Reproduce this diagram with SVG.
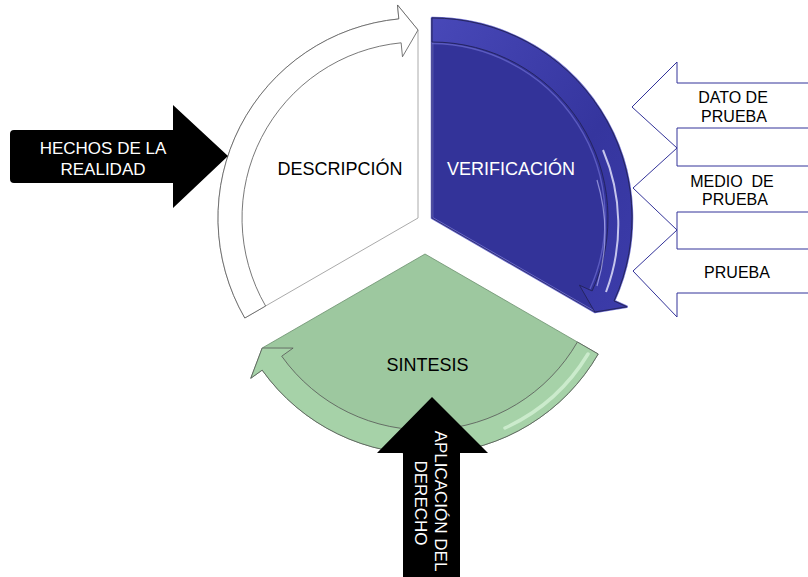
<svg xmlns="http://www.w3.org/2000/svg" width="808" height="577" viewBox="0 0 808 577">
<style>
text{font-family:"Liberation Sans",Arial,sans-serif}
.lbl{font-size:18px;text-anchor:middle}
.blk{font-size:17px;fill:#fff;text-anchor:middle}
.side{font-size:16px;fill:#000;text-anchor:middle}
.sarrow{fill:#fff;stroke:#333399;stroke-width:1}
.black{fill:#000}
</style>
<defs>
<linearGradient id="blueBand" x1="0" y1="0" x2="1" y2="1">
<stop offset="0" stop-color="#4848b8"/>
<stop offset="0.6" stop-color="#35359e"/>
<stop offset="1" stop-color="#3c3caa"/>
</linearGradient>
</defs>
<rect width="808" height="577" fill="#fff"/>
<g id="descripcion">
<path d="M418,218 L244.8,318 A200,200 0 0 1 398.83,18.92 L397.49,4.98 L418,30 Z" fill="#fff" stroke="#aaa" stroke-width="1"/>
<text class="lbl" x="340" y="175">DESCRIPCIÓN</text>
</g>
<g id="verificacion">
<path d="M432,218 L432,18 A200,200 0 0 1 613.99,300.94 L626.73,306.74 L594.81,312 Z" fill="#333399" stroke="#6a6acc" stroke-width="2.5" stroke-linejoin="round"/>
<path d="M432,218 L432,18 A200,200 0 0 1 613.99,300.94 L626.73,306.74 L594.81,312 Z" fill="none" stroke="#22225a" stroke-width="0.8"/>
<text class="lbl" x="511" y="175" fill="#fff">VERIFICACIÓN</text>
</g>
<g id="sintesis">
<path d="M425,254 L598.2,354 A200,200 0 0 1 262.18,370.14 L250.78,378.27 L262.19,348 Z" fill="#9dc89f" stroke="#6b8f6d" stroke-width="0.8"/>
<text class="lbl" x="427.5" y="371" fill="#000">SINTESIS</text>
</g>
<g id="connectors">
<path d="M244.8,318 A200,200 0 0 1 398.83,18.92 L397.49,4.98 L418,30 L402.47,56.75 L401.13,42.81 A176,176 0 0 0 265.6,306 Z" fill="#fff" stroke="#555" stroke-width="0.8"/>
<path d="M432,18 A200,200 0 0 1 613.99,300.94 L626.73,306.74 L594.81,312 L579.41,285.18 L592.15,290.99 A176,176 0 0 0 432,42 Z" fill="url(#blueBand)" stroke="#22225a" stroke-width="0.9"/>
<path d="M432,43.5 A174.5,174.5 0 0 1 590,289" fill="none" stroke="#6c6cd0" stroke-width="1.4" opacity="0.7"/>
<path d="M603,150 A190,190 0 0 1 606,292" fill="none" stroke="#e8e8ff" stroke-width="2" opacity="0.8"/>
<path d="M597,180 A184,184 0 0 1 597,286" fill="none" stroke="#c8c8ff" stroke-width="1.2" opacity="0.6"/>
<path d="M598.2,354 A200,200 0 0 1 262.18,370.14 L250.78,378.27 L262.19,348 L293.11,348.07 L281.71,356.2 A176,176 0 0 0 577.42,342 Z" fill="#a6d2a8" stroke="#555" stroke-width="0.8"/>
<path d="M588,354 A189,189 0 0 1 505,428" fill="none" stroke="#eaffea" stroke-width="3.5" opacity="0.55" stroke-linecap="round"/>
</g>
<g id="hechos">
<path class="black" d="M14,130 L173,130 L173,105 L228,156 L173,208 L173,183 L14,183 Q10,183 10,179 L10,134 Q10,130 14,130 Z"/>
<text class="blk" x="103" y="154">HECHOS DE LA</text>
<text class="blk" x="103" y="175">REALIDAD</text>
</g>
<g id="aplicacion">
<path class="black" d="M432,397 L488,453 L460,453 L460,577 L403,577 L403,453 L377,453 Z"/>
<text class="blk" transform="translate(435,501) rotate(90)">APLICACIÓN DEL</text>
<text class="blk" transform="translate(415,503) rotate(90)">DERECHO</text>
</g>
<g id="dato">
<path class="sarrow" d="M809,83 L677,83 L677,62 L632,107 L677,148 L677,128 L809,128 Z"/>
<text class="side" x="733" y="103">DATO DE</text>
<text class="side" x="734" y="122">PRUEBA</text>
</g>
<g id="medio">
<path class="sarrow" d="M809,166 L677,166 L677,148 L633,188 L677,230 L677,212 L809,212 Z"/>
<text class="side" x="732" y="187" xml:space="preserve">MEDIO  DE</text>
<text class="side" x="735" y="205">PRUEBA</text>
</g>
<g id="prueba">
<path class="sarrow" d="M809,249 L677,249 L677,230 L633,271 L677,317 L677,293 L809,293 Z"/>
<text class="side" x="737" y="278">PRUEBA</text>
</g>
</svg>
